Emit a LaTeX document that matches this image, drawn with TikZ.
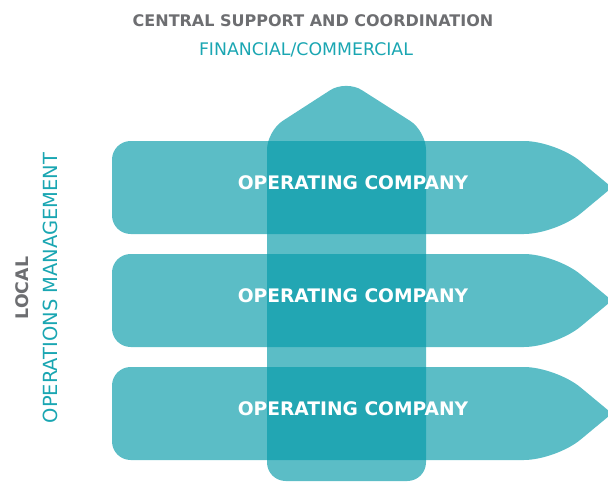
\documentclass[tikz,border=0pt]{standalone}
\usepackage{fontspec}
\setmainfont{DejaVu Sans}
\definecolor{bandteal}{RGB}{3,154,168}
\definecolor{headgray}{RGB}{109,110,113}
\definecolor{subteal}{RGB}{26,166,178}

\begin{document}
\begin{tikzpicture}[x=0.75pt, y=-0.75pt,
  band/.style={fill=bandteal, fill opacity=0.65},
  optext/.style={text=white, font=\bfseries\fontsize{14}{16}\selectfont},
  headtext/.style={text=headgray, font=\bfseries\fontsize{12}{14}\selectfont},
  subtext/.style={text=subteal, font=\fontsize{13}{15}\selectfont}]

  \useasboundingbox (0,0) rectangle (608,482);
  \clip (0,0) rectangle (608,482);

  % vertical arrow (central support)
  \fill[band, rounded corners=14] (267,481) -- (267,131) -- (346,80) -- (426,131) -- (426,481) -- cycle;

  % three horizontal arrows (operating companies)
  \foreach \y in {141,254,367} {
    \fill[band, rounded corners=14] (112,\y+46) -- (112,\y) [rounded corners=24] -- (556,\y)
      [rounded corners=4] -- (612,\y+46.5) [rounded corners=24] -- (556,\y+93)
      [rounded corners=14] -- (112,\y+93) -- cycle;
  }

  % labels
  \node[optext] (opa) at (353,183) {OPERATING COMPANY};
  \node[optext] (opb) at (353,296) {OPERATING COMPANY};
  \node[optext] (opc) at (353,409) {OPERATING COMPANY};

  \node[headtext] (central) at (313,21) {CENTRAL SUPPORT AND COORDINATION};
  \node[subtext] (finance) at (306,50) {FINANCIAL/COMMERCIAL};

  \node[headtext, font=\bfseries\fontsize{13}{15}\selectfont, rotate=90] (local) at (22,288) {LOCAL};
  \node[subtext, font=\fontsize{14.6}{16}\selectfont, rotate=90] (opsmgmt) at (50,288) {OPERATIONS MANAGEMENT};

\end{tikzpicture}
\end{document}
